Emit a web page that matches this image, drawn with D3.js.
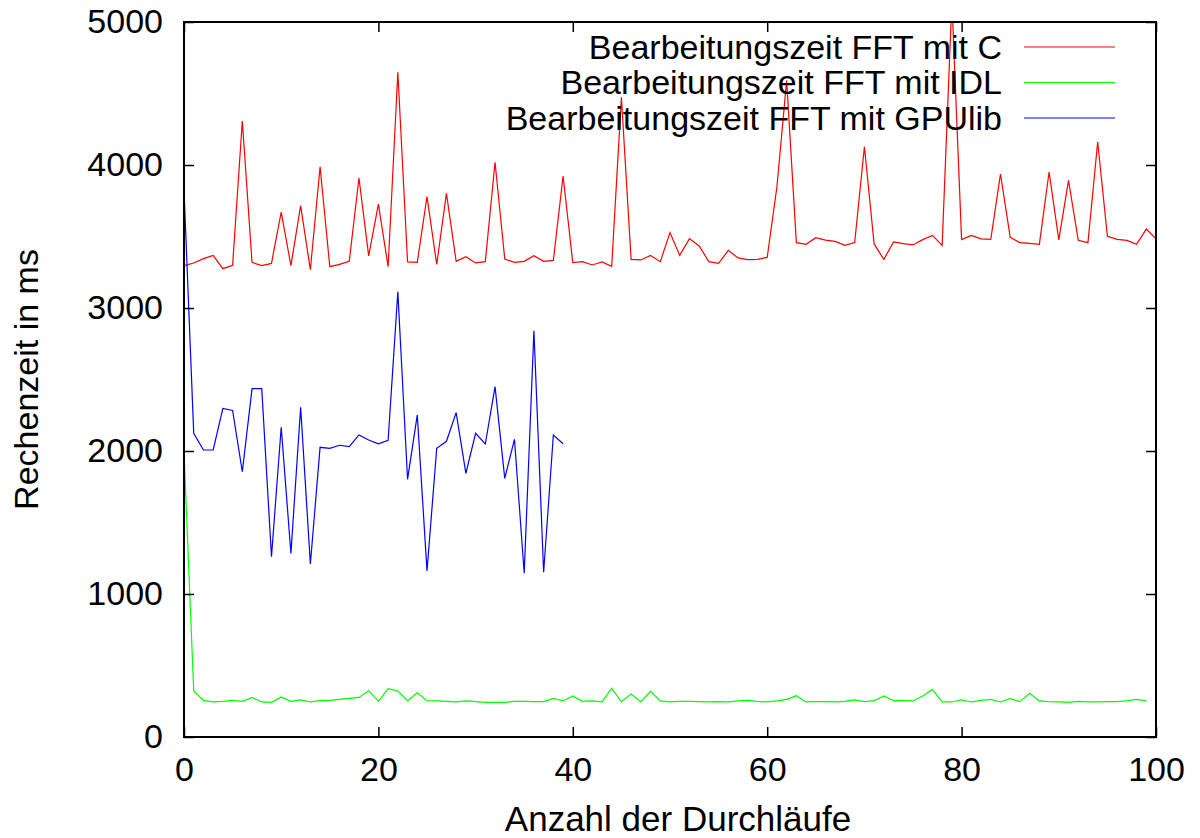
<!DOCTYPE html>
<html>
<head>
<meta charset="utf-8">
<script src="https://cdn.jsdelivr.net/npm/d3@7"></script>
<style>
    body { margin: 0; background: #fff; }
    text { font-family: "Liberation Sans", Arial, sans-serif; fill: #000; }
</style>
</head>
<body>
<script>

//series values (ms per run)
var timesC = [3296, 3315, 3345, 3368, 3275, 3298, 4308, 3319, 3296, 3312,
    3671, 3296, 3716, 3268, 3988, 3289, 3305, 3326, 3909, 3364,
    3727, 3289, 4648, 3322, 3319, 3779, 3305, 3802, 3326, 3359,
    3315, 3324, 4019, 3343, 3319, 3326, 3366, 3326, 3333, 3923,
    3317, 3324, 3301, 3322, 3291, 4473, 3340, 3336, 3368, 3324,
    3527, 3368, 3485, 3434, 3324, 3312, 3403, 3350, 3338, 3340,
    3354, 3848, 4590, 3457, 3445, 3492, 3475, 3466, 3438, 3457,
    4128, 3448, 3340, 3462, 3450, 3441, 3478, 3508, 3438, 5150,
    3478, 3508, 3483, 3480, 3937, 3494, 3457, 3452, 3445, 3951,
    3476, 3893, 3473, 3457, 4161, 3501, 3480, 3473, 3445, 3552,
    3483];

var timesIDL = [2000, 322, 256, 245, 249, 256, 249, 277, 245, 242,
    280, 249, 259, 245, 254, 256, 263, 270, 277, 324,
    249, 338, 322, 254, 310, 254, 252, 249, 245, 252,
    247, 242, 242, 242, 249, 249, 247, 247, 270, 252,
    287, 249, 252, 245, 340, 247, 301, 247, 319, 252,
    245, 249, 249, 247, 245, 247, 245, 252, 256, 249,
    245, 252, 263, 289, 245, 247, 247, 245, 249, 259,
    247, 254, 287, 254, 254, 252, 287, 333, 245, 245,
    259, 245, 256, 263, 245, 268, 247, 305, 252, 247,
    245, 242, 249, 245, 245, 247, 247, 252, 263, 252];

var timesGPU = [3830, 2124, 2007, 2007, 2298, 2284, 1855, 2436, 2436, 1261,
    2166, 1284, 2306, 1210, 2026, 2019, 2040, 2030, 2112, 2077,
    2050, 2075, 3114, 1802, 2252, 1161, 2019, 2068, 2268, 1843,
    2124, 2049, 2450, 1809, 2082, 1145, 2841, 1152, 2112, 2051];

var seriesNames = ["Bearbeitungszeit FFT mit C", "Bearbeitungszeit FFT mit IDL", "Bearbeitungszeit FFT mit GPUlib"];
var seriesColors = ["#ff0000", "#00ff00", "#0000ff"];

var xTicks = [0, 20, 40, 60, 80, 100];
var yTicks = [0, 1000, 2000, 3000, 4000, 5000];

var xTitle = "Anzahl der Durchläufe";
var yTitle = "Rechenzeit in ms";

window.onload = drawChart();

function drawChart(){

    //svg size and plot frame
    var width = 1200,
        height = 838;
    var left = 184, right = 1156, top = 22, bottom = 737;
    var fontSize = "34px";

    var svg = d3.select("body")
        .append("svg")
        .attr("width", width)
        .attr("height", height);

    var x = d3.scaleLinear()
        .domain([0, 100])
        .range([left, right]);

    var y = d3.scaleLinear()
        .domain([0, 5000])
        .range([bottom, top]);

    //clip the lines to the frame (the C spike at 79 goes over the top)
    svg.append("clipPath")
        .attr("id", "frame")
        .append("rect")
        .attr("x", left)
        .attr("y", top)
        .attr("width", right - left)
        .attr("height", bottom - top);

    var line = d3.line()
        .x(function(d, i){ return x(i); })
        .y(function(d){ return y(d); });

    var allSeries = [timesC, timesIDL, timesGPU];

    //data lines
    svg.append("g")
        .attr("clip-path", "url(#frame)")
        .selectAll(".series")
        .data(allSeries)
        .enter()
        .append("path")
        .attr("class", "series")
        .attr("d", function(d){ return line(d); })
        .attr("fill", "none")
        .attr("stroke", function(d, i){ return seriesColors[i]; })
        .attr("stroke-width", 1.2);

    //axes, ticks point inwards and are mirrored on the opposite side
    var tickLen = 10;

    var xAxisBottom = svg.append("g")
        .attr("transform", "translate(0," + bottom + ")")
        .call(d3.axisBottom(x).tickValues(xTicks).tickSizeInner(-tickLen).tickSizeOuter(0).tickPadding(20));
    var xAxisTop = svg.append("g")
        .attr("transform", "translate(0," + top + ")")
        .call(d3.axisTop(x).tickValues(xTicks).tickSizeInner(-tickLen).tickSizeOuter(0).tickFormat(""));
    var yAxisLeft = svg.append("g")
        .attr("transform", "translate(" + left + ",0)")
        .call(d3.axisLeft(y).tickValues(yTicks).tickFormat(d3.format("d")).tickSizeInner(-tickLen).tickSizeOuter(0).tickPadding(21));
    var yAxisRight = svg.append("g")
        .attr("transform", "translate(" + right + ",0)")
        .call(d3.axisRight(y).tickValues(yTicks).tickSizeInner(-tickLen).tickSizeOuter(0).tickFormat(""));

    [xAxisBottom, xAxisTop, yAxisLeft, yAxisRight].forEach(function(a){
        a.select(".domain").remove();
        a.selectAll(".tick line").attr("stroke", "#000").attr("stroke-width", 1.5);
        a.selectAll(".tick text")
            .style("font-family", "'Liberation Sans', Arial, sans-serif")
            .style("font-size", fontSize)
            .attr("fill", "#000");
    });

    //frame
    svg.append("rect")
        .attr("x", left)
        .attr("y", top)
        .attr("width", right - left)
        .attr("height", bottom - top)
        .attr("fill", "none")
        .attr("stroke", "#000")
        .attr("stroke-width", 2);

    //axis titles
    svg.append("text")
        .attr("x", 678)
        .attr("y", 831)
        .attr("text-anchor", "middle")
        .style("font-size", "35px")
        .text(xTitle);

    svg.append("text")
        .attr("transform", "translate(38," + ((top + bottom) / 2) + ") rotate(-90)")
        .attr("text-anchor", "middle")
        .style("font-size", fontSize)
        .text(yTitle);

    //legend, text right aligned with a short line sample
    var legend = svg.selectAll(".legend")
        .data(seriesNames)
        .enter()
        .append("g")
        .attr("class", "legend")
        .attr("transform", function(d, i){ return "translate(0," + (47 + i * 35.5) + ")"; });

    legend.append("text")
        .attr("x", 1002)
        .attr("y", 0)
        .attr("dy", "0.35em")
        .attr("text-anchor", "end")
        .style("font-size", fontSize)
        .text(function(d){ return d; });

    legend.append("line")
        .attr("x1", 1024)
        .attr("x2", 1115)
        .attr("y1", 0)
        .attr("y2", 0)
        .attr("stroke", function(d, i){ return seriesColors[i]; })
        .attr("stroke-width", 1.2);
};
</script>
</body>
</html>
